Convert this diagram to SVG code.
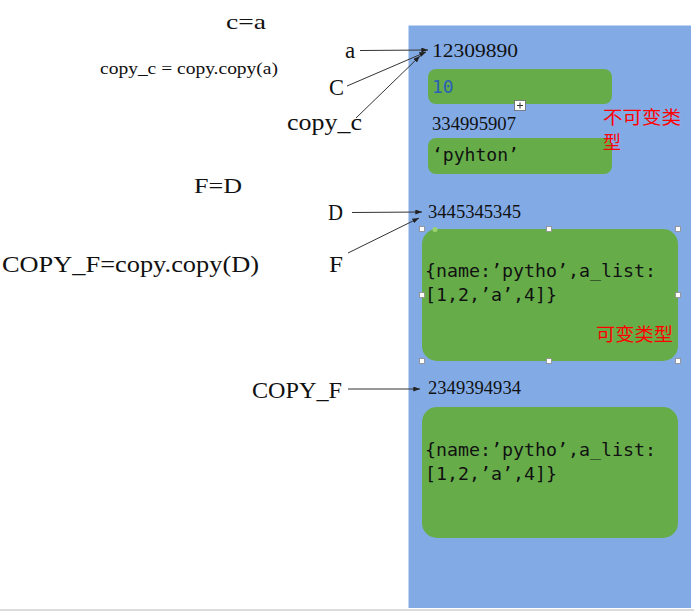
<svg xmlns="http://www.w3.org/2000/svg" width="694" height="611" viewBox="0 0 694 611">
  <style>
    .lbl { font-family: "Liberation Serif", "Times New Roman", serif; fill: #111; }
    .num { font-family: "Liberation Serif", "Times New Roman", serif; font-size: 18px; fill: #111; }
    .mono { font-family: "DejaVu Sans Mono", "Liberation Mono", monospace; font-size: 18px; fill: #111; }
    .red { font-family: "Noto Sans CJK SC", sans-serif; font-size: 18px; fill: #ff0000; }
    .box { fill: #66ad4a; }
    .conn { stroke: #333; stroke-width: 1; fill: none; marker-end: url(#ah); }
    .handle { fill: #ffffff; stroke: #8a8a8a; stroke-width: 0.8; }
  </style>
  <defs>
    <marker id="ah" viewBox="0 0 8 6" refX="8" refY="3" markerWidth="7" markerHeight="5" markerUnits="userSpaceOnUse" orient="auto">
      <path d="M0,0 L8,3 L0,6 Z" fill="#222"/>
    </marker>
  </defs>

  <rect x="0" y="0" width="694" height="611" fill="#ffffff"/>

  <!-- memory panel -->
  <g id="panel">
    <rect x="408.5" y="25.5" width="282.5" height="582.5" fill="#82abe6"/>
    <rect x="0" y="609" width="694" height="2" fill="#dcdcdc"/>
  </g>

  <!-- code statements -->
  <g id="code">
    <text class="lbl" x="226" y="29" font-size="22" textLength="40" lengthAdjust="spacingAndGlyphs">c=a</text>
    <text class="lbl" x="100" y="74" font-size="17" textLength="178" lengthAdjust="spacingAndGlyphs">copy_c = copy.copy(a)</text>
    <text class="lbl" x="194" y="193" font-size="22" textLength="48" lengthAdjust="spacingAndGlyphs">F=D</text>
    <text class="lbl" x="2" y="272" font-size="24" textLength="257" lengthAdjust="spacingAndGlyphs">COPY_F=copy.copy(D)</text>
  </g>

  <!-- variable names -->
  <g id="var-a"><text class="lbl" x="345" y="58" font-size="23">a</text></g>
  <g id="var-C"><text class="lbl" x="329" y="95" font-size="23" textLength="15" lengthAdjust="spacingAndGlyphs">C</text></g>
  <g id="var-copy_c"><text class="lbl" x="287" y="130" font-size="24" textLength="75" lengthAdjust="spacingAndGlyphs">copy_c</text></g>
  <g id="var-D"><text class="lbl" x="328" y="220" font-size="23" textLength="15" lengthAdjust="spacingAndGlyphs">D</text></g>
  <g id="var-F"><text class="lbl" x="329" y="272" font-size="23" textLength="14" lengthAdjust="spacingAndGlyphs">F</text></g>
  <g id="var-COPY_F"><text class="lbl" x="252" y="398" font-size="24" textLength="90" lengthAdjust="spacingAndGlyphs">COPY_F</text></g>

  <!-- memory: immutable -->
  <g id="mem-12309890">
    <text class="num" x="432" y="57" textLength="86" lengthAdjust="spacingAndGlyphs">12309890</text>
    <rect class="box" x="428" y="69" width="184" height="35" rx="8"/>
    <text class="mono" x="432" y="93" font-size="17.5" style="fill:#2a5fb8">10</text>
    <rect x="514.5" y="100.5" width="11" height="10" fill="#fff" stroke="#666" stroke-width="0.8"/>
    <path d="M517,105.5 H523 M520,102.5 V108.5" stroke="#333" stroke-width="1"/>
  </g>
  <g id="mem-334995907">
    <text class="num" x="432" y="130" textLength="84" lengthAdjust="spacingAndGlyphs">334995907</text>
    <rect class="box" x="428" y="138" width="184" height="36" rx="8"/>
    <text class="mono" x="432" y="161" textLength="87" lengthAdjust="spacingAndGlyphs">‘pyhton’</text>
  </g>
  <g id="note-immutable">
    <text class="red" x="603" y="124" font-size="17" textLength="78" lengthAdjust="spacingAndGlyphs">不可变类</text>
    <text class="red" x="603" y="149" font-size="17">型</text>
  </g>

  <!-- memory: mutable D/F -->
  <g id="mem-3445345345">
    <text class="num" x="428" y="218" textLength="93" lengthAdjust="spacingAndGlyphs">3445345345</text>
    <rect class="box" x="422" y="229" width="256" height="132" rx="15"/>
    <text class="mono" x="425" y="277" textLength="231" lengthAdjust="spacingAndGlyphs">{name:’pytho’,a_list:</text>
    <text class="mono" x="425" y="301" textLength="132" lengthAdjust="spacingAndGlyphs">[1,2,’a’,4]}</text>
    <text class="red" x="596" y="341" textLength="77" lengthAdjust="spacingAndGlyphs">可变类型</text>
    <rect class="handle" x="419.5" y="226.5" width="5" height="5"/>
    <rect class="handle" x="546.5" y="226.5" width="5" height="5"/>
    <rect class="handle" x="675.5" y="226.5" width="5" height="5"/>
    <rect class="handle" x="419.5" y="292.5" width="5" height="5"/>
    <rect class="handle" x="675.5" y="292.5" width="5" height="5"/>
    <rect class="handle" x="419.5" y="358.5" width="5" height="5"/>
    <rect class="handle" x="546.5" y="358.5" width="5" height="5"/>
    <rect class="handle" x="675.5" y="358.5" width="5" height="5"/>
    <circle cx="435" cy="229.5" r="2.5" fill="#9ad46e"/>
  </g>

  <!-- memory: COPY_F -->
  <g id="mem-2349394934">
    <text class="num" x="428" y="394" textLength="93" lengthAdjust="spacingAndGlyphs">2349394934</text>
    <rect class="box" x="422" y="407" width="256" height="131" rx="15"/>
    <text class="mono" x="425" y="456" textLength="231" lengthAdjust="spacingAndGlyphs">{name:’pytho’,a_list:</text>
    <text class="mono" x="425" y="480" textLength="132" lengthAdjust="spacingAndGlyphs">[1,2,’a’,4]}</text>
  </g>

  <!-- connectors -->
  <g id="connectors">
    <path class="conn" d="M360,50.5 L428,50"/>
    <path class="conn" d="M347,86 L426,52"/>
    <path class="conn" d="M356,118 L420,56"/>
    <path class="conn" d="M352,212.5 L422,212"/>
    <path class="conn" d="M348,253 L419,218"/>
    <path class="conn" d="M348,389 L420,389"/>
  </g>
</svg>
